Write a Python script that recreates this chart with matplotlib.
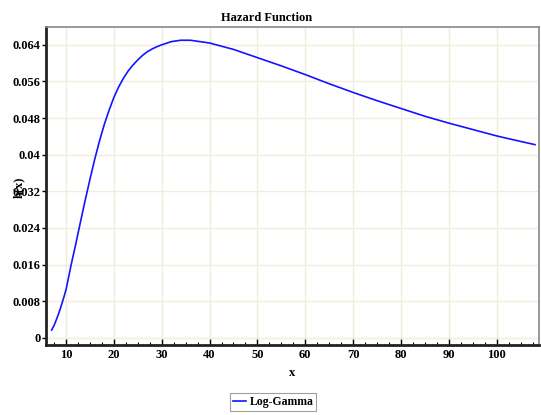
import matplotlib
matplotlib.use('Agg')
import matplotlib.pyplot as plt
from matplotlib.ticker import MultipleLocator

# ---------- DADOS ----------

x_vals = [7, 7.5, 8, 8.5, 9, 9.5, 10, 10.5, 11, 12, 13, 14, 15, 16, 17, 18, 19, 20,
          21, 22, 23, 24, 25, 26, 27, 28, 29, 30, 32, 34, 36, 38, 40, 45, 50, 55,
          60, 65, 70, 75, 80, 85, 90, 95, 100, 105, 108]
hazard = [0.0017, 0.0027, 0.0040, 0.0054, 0.0070, 0.0087, 0.0105, 0.0130, 0.0156,
          0.0203, 0.0252, 0.0300, 0.0346, 0.0390, 0.0430, 0.0466, 0.0497, 0.0525,
          0.0548, 0.0567, 0.0583, 0.0596, 0.0607, 0.0617, 0.0625, 0.0631, 0.0636,
          0.0640, 0.0647, 0.0650, 0.0650, 0.0647, 0.0644, 0.0630, 0.0612, 0.0594,
          0.0575, 0.0555, 0.0536, 0.0518, 0.0501, 0.0484, 0.0469, 0.0455, 0.0441,
          0.0429, 0.0422]
y_ticks = [0, 0.008, 0.016, 0.024, 0.032, 0.04, 0.048, 0.056, 0.064]
y_labels = ['0', '0.008', '0.016', '0.024', '0.032', '0.04', '0.048', '0.056', '0.064']
x_ticks = [10, 20, 30, 40, 50, 60, 70, 80, 90, 100]

# ---------- GRAFICO ----------

plt.rcParams['font.family'] = ['Liberation Serif', 'DejaVu Serif']
plt.rcParams['font.weight'] = 'bold'

fig = plt.figure(figsize=(5.41, 4.15), dpi=100)
ax = fig.add_axes([0.085, 0.169, 0.911, 0.766])

ax.plot(x_vals, hazard, color='#1414ff', linewidth=1.2, label='Log-Gamma')

ax.set_xlim(5.82, 108.8)
ax.set_ylim(-0.00153, 0.0679)

ax.set_xticks(x_ticks)
ax.set_xticklabels([str(t) for t in x_ticks], fontsize=9, fontweight='bold')
ax.xaxis.set_minor_locator(MultipleLocator(2.5))
ax.set_yticks(y_ticks)
ax.set_yticklabels(y_labels, fontsize=9, fontweight='bold')

ax.tick_params(axis='x', which='major', direction='in', length=4, width=1, pad=3)
ax.tick_params(axis='x', which='minor', direction='in', length=2, width=0.8)
ax.tick_params(axis='y', which='major', direction='out', length=3, width=1, pad=1)

ax.grid(True, which='major', color='#f0eddc', linewidth=1)
ax.set_axisbelow(True)

for side in ['left', 'bottom']:
    ax.spines[side].set_color('#222222')
    ax.spines[side].set_linewidth(2)
for side in ['top', 'right']:
    ax.spines[side].set_color('#888888')
    ax.spines[side].set_linewidth(1.2)

fig.text(0.492, 0.956, 'Hazard Function', ha='center', va='center',
         fontsize=9, fontweight='bold')
ax.set_xlabel('x', fontsize=9, fontweight='bold', labelpad=4)
fig.text(0.035, 0.548, 'h(x)', rotation=90, ha='center', va='center',
         fontsize=9, fontweight='bold')

leg = fig.legend(loc='center', bbox_to_anchor=(0.505, 0.032), fontsize=8.5,
                 frameon=True, fancybox=False, handlelength=1.1, handletextpad=0.3,
                 borderpad=0.25, borderaxespad=0)
leg.get_frame().set_edgecolor('#888888')
leg.get_frame().set_linewidth(0.8)
for t in leg.get_texts():
    t.set_fontweight('bold')

fig.savefig('out.png', dpi=100)
